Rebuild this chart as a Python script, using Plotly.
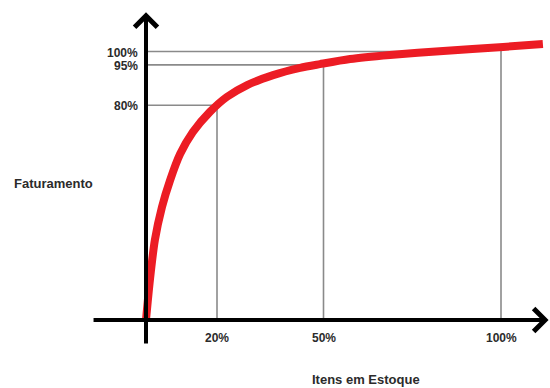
import numpy as np
import plotly.graph_objects as go

# Curve (ABC / Pareto): % of items vs % of revenue
itens_pct = [0, 1.1, 2.5, 4.5, 6.8, 9.6, 13.2, 18.0, 22.8, 28.5, 35.8, 43.4, 49.0,
             57.5, 68.7, 83.7, 100.6, 111.8]
faturamento_pct = [0, 14.9, 29.8, 42.1, 52.1, 61.8, 70.0, 77.5, 83.1, 87.5, 91.2, 93.9,
                   95.3, 97.2, 98.7, 100.2, 101.7, 102.8]

x_ticks = [20, 50, 100]
x_tick_labels = ["20%", "50%", "100%"]
y_ticks = [80, 95, 100]
y_tick_labels = ["80%", "95%", "100%"]

x_title = "Itens em Estoque"
y_title = "Faturamento"

cx = np.array(itens_pct, dtype=float)
cy = np.array(faturamento_pct, dtype=float)

fig = go.Figure()

# guide lines: horizontal from y axis to curve, vertical from x axis to curve
gx, gy = [], []
for lv in y_ticks:
    xe = float(np.interp(lv, cy, cx))
    gx += [0, xe, None]
    gy += [lv, lv, None]
for xv in x_ticks:
    ye = float(np.interp(xv, cx, cy))
    gx += [xv, xv, None]
    gy += [0, ye, None]

fig.add_trace(go.Scatter(x=gx, y=gy, mode="lines",
                         line=dict(color="#8a8a8a", width=1.6),
                         hoverinfo="skip", showlegend=False))

fig.add_trace(go.Scatter(x=itens_pct, y=faturamento_pct, mode="lines",
                         line=dict(color="#ec1c24", width=8, shape="spline", smoothing=0.8),
                         showlegend=False))

font_lbl = dict(family="Liberation Sans, Arial, sans-serif", size=12, color="#2b2b2b")

ann = []
# axes with arrow heads
ann.append(dict(x=113.4, y=0, ax=-15.2, ay=0, xref="x", yref="y", axref="x", ayref="y",
                text="", showarrow=True, arrowhead=4, arrowsize=1.1, arrowwidth=4,
                arrowcolor="black"))
ann.append(dict(x=0, y=114.6, ax=0, ay=-9.3, xref="x", yref="y", axref="x", ayref="y",
                text="", showarrow=True, arrowhead=4, arrowsize=1.1, arrowwidth=4,
                arrowcolor="black"))

for v, t in zip(y_ticks, y_tick_labels):
    ann.append(dict(x=0, y=v, xref="x", yref="y", text="<b>%s</b>" % t, showarrow=False,
                    xanchor="right", yanchor="middle", xshift=-6, yshift=-1, font=font_lbl))
for v, t in zip(x_ticks, x_tick_labels):
    ann.append(dict(x=v, y=0, xref="x", yref="y", text="<b>%s</b>" % t, showarrow=False,
                    xanchor="center", yanchor="middle", yshift=-18, font=font_lbl))

ann.append(dict(x=53 / 550, y=1 - 183 / 388, xref="paper", yref="paper",
                text="<b>%s</b>" % y_title, showarrow=False, xanchor="center",
                yanchor="middle", font=dict(font_lbl, size=13)))
ann.append(dict(x=366 / 550, y=1 - 379 / 388, xref="paper", yref="paper",
                text="<b>%s</b>" % x_title, showarrow=False, xanchor="center",
                yanchor="middle", font=dict(font_lbl, size=13)))

fig.update_layout(
    width=550, height=388, autosize=False,
    margin=dict(l=0, r=0, t=0, b=0, pad=0),
    paper_bgcolor="white", plot_bgcolor="white",
    xaxis=dict(visible=False, range=[-146 / 3.55, 404 / 3.55], fixedrange=True),
    yaxis=dict(visible=False, range=[-68 / 2.685, 320 / 2.685], fixedrange=True),
    annotations=ann,
    showlegend=False,
)

fig.write_html("out.html", config={"displayModeBar": False},
               post_script="document.body.style.margin='0';document.body.style.overflow='hidden';")
